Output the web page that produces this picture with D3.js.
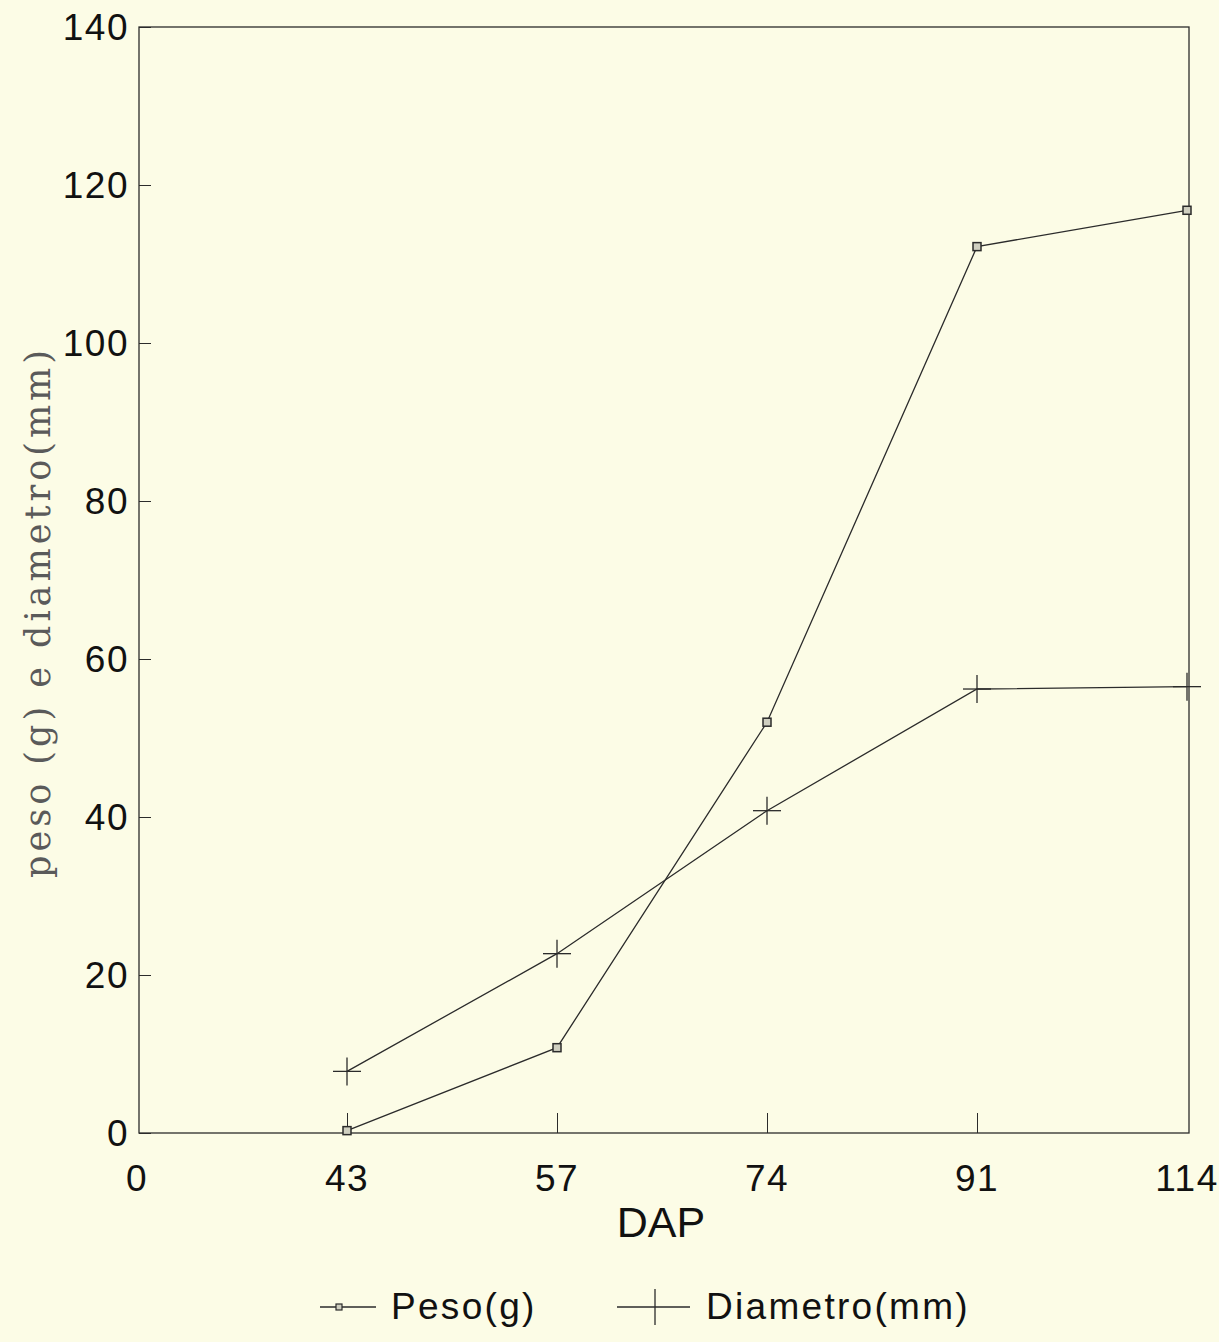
<!DOCTYPE html>
<html>
<head>
<meta charset="utf-8">
<script src="https://cdn.jsdelivr.net/npm/d3@7"></script>
<style>
  body { margin: 0; background: #fcfce6; }
  svg { display: block; }
</style>
</head>
<body>
<svg></svg>
<script>
let categories = ["0", "43", "57", "74", "91", "114"];
let peso = [0.3, 10.8, 52.0, 112.2, 116.8];
let diametro = [7.8, 22.7, 40.8, 56.2, 56.5];
let dataDays = ["43", "57", "74", "91", "114"];
let yTicks = [0, 20, 40, 60, 80, 100, 120, 140];

let width = 1219;
let height = 1342;
let plotLeft = 139, plotRight = 1189, plotTop = 27, plotBottom = 1133;
let ink = "#2b2b2b";
let sans = "'Liberation Sans', Arial, sans-serif";

let svg = d3.select("svg").attr("width", width).attr("height", height);

let xScale = d3.scalePoint().domain(categories).range([plotLeft - 2, plotRight - 2]);
let yScale = d3.scaleLinear().domain([0, 140]).range([plotBottom, plotTop]);

// frame
svg.append("rect")
  .attr("x", plotLeft).attr("y", plotTop)
  .attr("width", plotRight - plotLeft).attr("height", plotBottom - plotTop)
  .attr("fill", "none").attr("stroke", ink).attr("stroke-width", 1.3);

// y axis (ticks pointing inward)
let yAxis = d3.axisRight(yScale).tickValues(yTicks).tickSize(12).tickFormat("");
svg.append("g")
  .attr("transform", `translate(${plotLeft},0)`)
  .call(yAxis)
  .call((g) => g.select(".domain").remove())
  .selectAll("line").attr("stroke", ink);

svg.append("g").selectAll("text")
  .data(yTicks).enter().append("text")
  .attr("x", plotLeft - 10)
  .attr("y", (d) => yScale(d))
  .attr("dy", "0.36em")
  .attr("text-anchor", "end")
  .style("font-family", sans)
  .style("font-size", "37px")
  .style("letter-spacing", "1.5px")
  .attr("fill", "#111")
  .text((d) => d);

// x axis (ticks pointing up)
let xAxis = d3.axisTop(xScale).tickValues(["43", "57", "74", "91"]).tickSize(20).tickFormat("");
svg.append("g")
  .attr("transform", `translate(0,${plotBottom})`)
  .call(xAxis)
  .call((g) => g.select(".domain").remove())
  .selectAll("line").attr("stroke", ink);

svg.append("g").selectAll("text")
  .data(categories).enter().append("text")
  .attr("x", (d) => xScale(d))
  .attr("y", plotBottom + 58)
  .attr("text-anchor", "middle")
  .style("font-family", sans)
  .style("font-size", "37px")
  .style("letter-spacing", "1.5px")
  .attr("fill", "#111")
  .text((d) => d);

svg.append("text")
  .attr("x", 661).attr("y", 1237)
  .attr("text-anchor", "middle")
  .style("font-family", sans)
  .style("font-size", "43px")
  .attr("fill", "#111")
  .text("DAP");

svg.append("text")
  .attr("transform", "rotate(-90)")
  .attr("x", -612).attr("y", 50)
  .attr("text-anchor", "middle")
  .style("font-family", "'DejaVu Serif', 'Liberation Serif', serif")
  .style("font-size", "35px")
  .attr("fill", "#5a5a5a")
  .style("letter-spacing", "4px")
  .text("peso (g) e diametro(mm)");

// lines
let line = d3.line()
  .x((d, i) => xScale(dataDays[i]))
  .y((d) => yScale(d));

svg.append("path").datum(peso)
  .attr("d", line).attr("fill", "none")
  .attr("stroke", ink).attr("stroke-width", 1.3);

svg.append("path").datum(diametro)
  .attr("d", line).attr("fill", "none")
  .attr("stroke", ink).attr("stroke-width", 1.3);

// markers
svg.append("g").selectAll("rect")
  .data(peso).enter().append("rect")
  .attr("x", (d, i) => xScale(dataDays[i]) - 4)
  .attr("y", (d) => yScale(d) - 4)
  .attr("width", 8).attr("height", 8)
  .attr("fill", "#cfcfc0").attr("stroke", ink).attr("stroke-width", 1.5);

let plus = svg.append("g").selectAll("g")
  .data(diametro).enter().append("g")
  .attr("transform", (d, i) => `translate(${xScale(dataDays[i])},${yScale(d)})`);
plus.append("line").attr("x1", -14).attr("x2", 14).attr("stroke", ink).attr("stroke-width", 1.3);
plus.append("line").attr("y1", -14).attr("y2", 14).attr("stroke", ink).attr("stroke-width", 1.3);

// legend
let legY = 1319;
svg.append("line").attr("x1", 320).attr("x2", 376).attr("y1", legY - 12).attr("y2", legY - 12)
  .attr("stroke", ink).attr("stroke-width", 1.3);
svg.append("rect").attr("x", 336).attr("y", legY - 15).attr("width", 6).attr("height", 6)
  .attr("fill", "#cfcfc0").attr("stroke", ink).attr("stroke-width", 1.2);
svg.append("text").attr("x", 391).attr("y", legY)
  .style("font-family", sans).style("font-size", "37px").style("letter-spacing", "2.3px")
  .attr("fill", "#111")
  .text("Peso(g)");

svg.append("line").attr("x1", 617).attr("x2", 690).attr("y1", legY - 12).attr("y2", legY - 12)
  .attr("stroke", ink).attr("stroke-width", 1.3);
svg.append("line").attr("x1", 655).attr("x2", 655).attr("y1", legY - 30).attr("y2", legY + 6)
  .attr("stroke", ink).attr("stroke-width", 1.3);
svg.append("text").attr("x", 706).attr("y", legY)
  .style("font-family", sans).style("font-size", "37px").style("letter-spacing", "2.3px")
  .attr("fill", "#111")
  .text("Diametro(mm)");
</script>
</body>
</html>
